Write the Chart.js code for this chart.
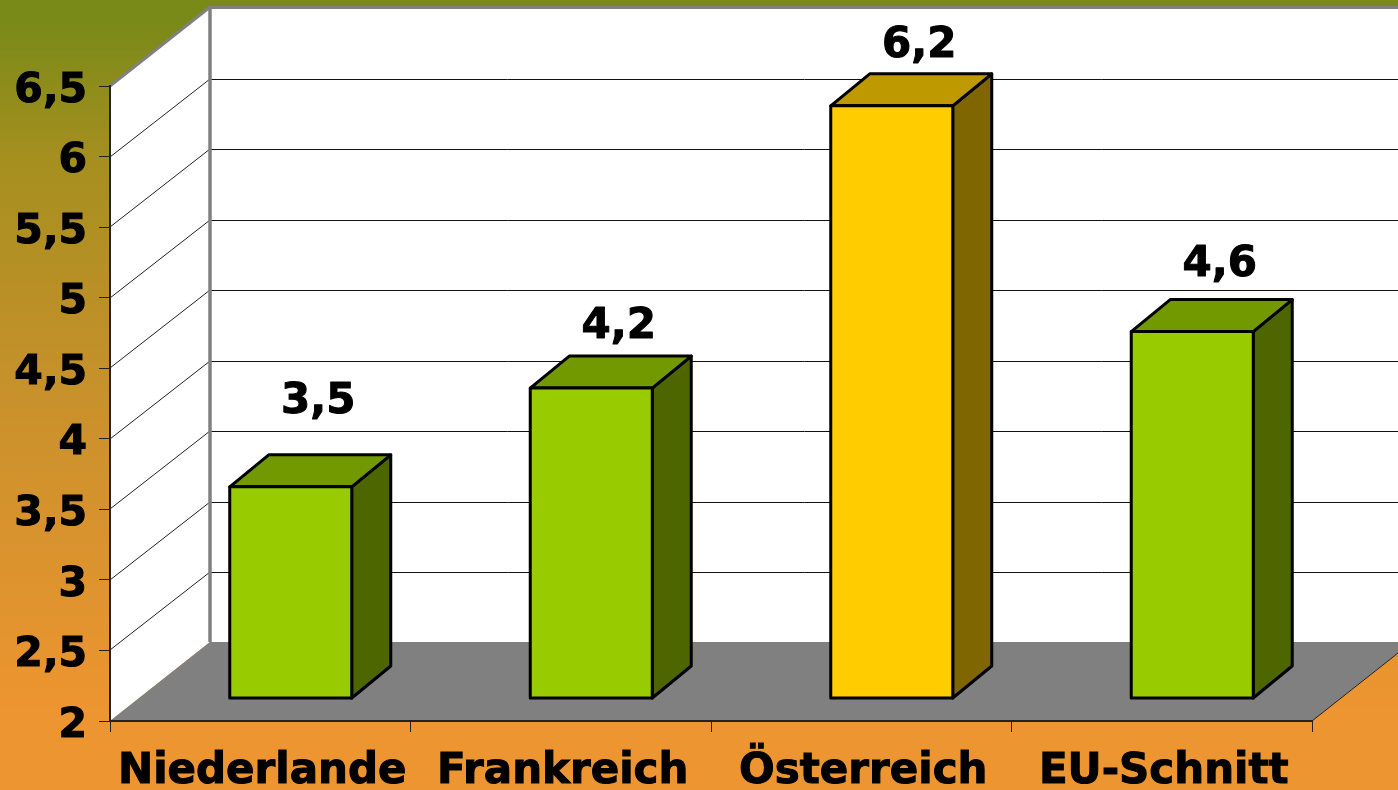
<!DOCTYPE html>
<html><head><meta charset="utf-8">
<style>html,body{margin:0;padding:0;background:#ed9530}canvas{display:block}</style>
<script src="https://cdn.jsdelivr.net/npm/chart.js@4"></script></head>
<body><div style="width:1398px;height:790px"><canvas id="c" width="1398" height="790"></canvas></div>
<script>
const categories = ["Niederlande","Frankreich","Österreich","EU-Schnitt"];
const values = [3.5,4.2,6.2,4.6];
const frontColors = ["#99cc00","#99cc00","#ffcc00","#99cc00"];
const topColors = ["#739900","#739900","#bf9900","#739900"];
const sideColors = ["#4d6600","#4d6600","#806600","#4d6600"];
const yMin = 2, yMax = 6.5, yStep = 0.5;
const FONT = '"DejaVu Sans"';
const WALL = {dx:100, dy:-79};      // depth of the box
const BAR_SHIFT = {dx:30.5, dy:-22.5};  // bars stand inside the box
const BAR_DEPTH = {dx:39, dy:-32};
const LABEL_LIFT = [74,50,49,56];   // label distance above each bar top
const fmt = v => String(v).replace('.', ',');

function poly(ctx, pts, fill, stroke, lw){
  ctx.beginPath();
  pts.forEach((p,i)=> i?ctx.lineTo(p[0],p[1]):ctx.moveTo(p[0],p[1]));
  ctx.closePath();
  if(fill){ctx.fillStyle=fill;ctx.fill();}
  if(stroke){ctx.strokeStyle=stroke;ctx.lineWidth=lw;ctx.lineJoin='round';ctx.stroke();}
}
function seg(ctx,x1,y1,x2,y2,c,lw){
  ctx.beginPath();ctx.moveTo(x1,y1);ctx.lineTo(x2,y2);ctx.strokeStyle=c;ctx.lineWidth=lw;ctx.stroke();
}

const scene = {
  id:'scene',
  beforeDraw(chart){
    const {ctx,width,height,chartArea:a,scales:{y}} = chart;
    const g = ctx.createLinearGradient(0,0,0,height);
    g.addColorStop(0,'#7a8a18'); g.addColorStop(0.03,'#7a8a18');
    g.addColorStop(0.2,'#a58f1f'); g.addColorStop(0.5,'#c8912b');
    g.addColorStop(0.9,'#ed9530'); g.addColorStop(1,'#ed9530');
    ctx.fillStyle=g; ctx.fillRect(0,0,width,height);
    const L=a.left,R=a.right,T=a.top,B=a.bottom,dx=WALL.dx,dy=WALL.dy;
    poly(ctx,[[L,T],[L+dx,T+dy],[L+dx,B+dy],[L,B]],'#ffffff');
    poly(ctx,[[L+dx,T+dy],[R+dx,T+dy],[R+dx,B+dy],[L+dx,B+dy]],'#ffffff');
    poly(ctx,[[L,B],[L+dx,B+dy],[R+dx,B+dy],[R,B]],'#808080');
    seg(ctx,R,B,R+dx,B+dy,'#222222',1);
    const ticks=[];
    for(let v=yMin+yStep;v<yMax;v+=yStep) ticks.push(v);
    ticks.forEach(v=>{
      const p=Math.round(y.getPixelForValue(v));
      seg(ctx,L,p,L+dx,p+dy+1,'#222222',1);
      seg(ctx,L+dx,p+dy+1.5,R+dx,p+dy+1.5,'#111111',1);
    });
    seg(ctx,L,T,L+dx,T+dy,'#808080',3);
    seg(ctx,L+dx-1,T+dy+0.5,R+dx,T+dy+0.5,'#808080',3);
    seg(ctx,L+dx,T+dy,L+dx,B+dy,'#808080',3.5);
  },
  beforeDatasetsDraw(chart){
    const {ctx}=chart;
    ctx.save();
    ctx.translate(BAR_SHIFT.dx,BAR_SHIFT.dy);
    chart.getDatasetMeta(0).data.forEach((b,i)=>{
      const l=b.x-b.width/2,r=b.x+b.width/2,t=b.y,bt=b.base,dx=BAR_DEPTH.dx,dy=BAR_DEPTH.dy;
      poly(ctx,[[r,t],[r+dx,t+dy],[r+dx,bt+dy],[r,bt]],sideColors[i],'#000',3);
      poly(ctx,[[l,t],[l+dx,t+dy],[r+dx,t+dy],[r,t]],topColors[i],'#000',3);
    });
  },
  afterDatasetsDraw(chart){
    const {ctx}=chart;
    chart.getDatasetMeta(0).data.forEach((b,i)=>{
      const l=b.x-b.width/2,r=b.x+b.width/2;
      poly(ctx,[[l,b.y],[r,b.y],[r,b.base],[l,b.base]],null,'#000',3);
    });
    ctx.font='bold 42px '+FONT;ctx.textAlign='center';ctx.textBaseline='alphabetic';ctx.fillStyle='#000';
    ctx.strokeStyle='#000';ctx.lineWidth=1;ctx.lineJoin='round';
    chart.getDatasetMeta(0).data.forEach((b,i)=>{
      ctx.fillText(fmt(values[i]),b.x+27.5,b.y-LABEL_LIFT[i]);
      ctx.strokeText(fmt(values[i]),b.x+27.5,b.y-LABEL_LIFT[i]);
    });
    ctx.restore();
  }
};

new Chart(document.getElementById('c'),{
  type:'bar',
  data:{labels:categories,datasets:[{
    data:values,base:yMin,backgroundColor:frontColors,borderWidth:0,
    barPercentage:0.406,categoryPercentage:1,clip:false
  }]},
  plugins:[scene],
  options:{
    responsive:false,animation:false,
    layout:{padding:{top:86,right:86,left:0,bottom:0}},
    plugins:{legend:{display:false},tooltip:{enabled:false},title:{display:false}},
    scales:{
      x:{
        grid:{offset:true,drawOnChartArea:false,color:'#222222',tickLength:11,lineWidth:1},
        border:{color:'#222222',width:2},
        ticks:{color:'#000',font:{family:FONT,weight:'bold',size:42},padding:15,labelOffset:2,maxRotation:0,autoSkip:false,textStrokeColor:'#000',textStrokeWidth:1},
        afterFit(s){s.height=69;}
      },
      y:{
        min:yMin,max:yMax,
        grid:{drawOnChartArea:false,color:'#222222',tickLength:11,lineWidth:1},
        border:{color:'#222222',width:2},
        ticks:{stepSize:yStep,color:'#000',font:{family:FONT,weight:'bold',size:41},padding:12,labelOffset:5,textStrokeColor:'#000',textStrokeWidth:1,callback:v=>fmt(v)},
        afterFit(s){s.width=110;}
      }
    }
  }
});
</script></body></html>
